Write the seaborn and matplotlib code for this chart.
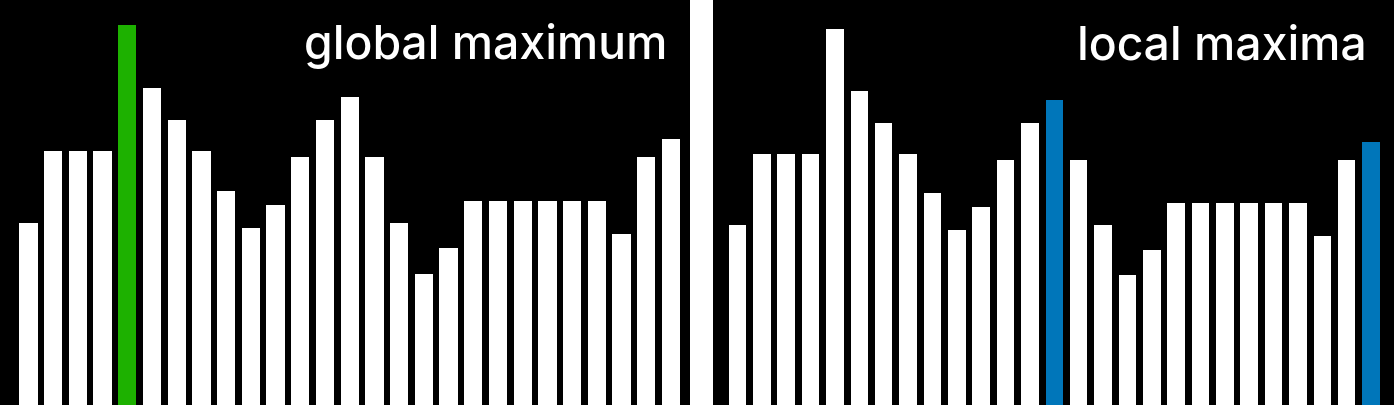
import matplotlib
matplotlib.use("Agg")
import matplotlib.pyplot as plt
import seaborn as sns
import numpy as np

# Data
positions = list(range(27))
values = [182, 254, 254, 254, 380, 317, 285, 254, 214, 177, 200, 248, 285, 308,
          248, 182, 131, 157, 204, 204, 204, 204, 204, 204, 171, 248, 266]
global_max_idx = [4]
local_max_idx = [13, 26]
titles = ["global maximum", "local maxima"]

WHITE = "#ffffff"
GREEN = "#1db100"
BLUE = "#0076ba"

sns.set_theme(style="white")
plt.rcParams['font.family'] = ['Inter', 'DejaVu Sans']

W, H, DPI = 1394, 406, 100
fig = plt.figure(figsize=(W / DPI, H / DPI), dpi=DPI, facecolor="white")

ax1 = fig.add_axes([0 / W, 0, 690 / W, 1])
ax2 = fig.add_axes([713 / W, 0, 681 / W, 1])

colors1 = [GREEN if i in global_max_idx else WHITE for i in positions]
colors2 = [BLUE if i in local_max_idx else WHITE for i in positions]

sns.barplot(x=positions, y=values, hue=positions, palette=colors1, legend=False,
            width=0.74, saturation=1, linewidth=0, ax=ax1)
sns.barplot(x=positions, y=values, hue=positions, palette=colors2, legend=False,
            width=0.72, saturation=1, linewidth=0, ax=ax2)

ax1.set_xlim(-1.151, 26.77)
ax2.set_xlim(-1.005, 26.94)
ax1.set_ylim(0, 406)
ax2.set_ylim(0, 410.3)

for ax in (ax1, ax2):
    ax.set_facecolor("black")
    ax.set_xticks([])
    ax.set_yticks([])
    ax.set_xlabel("")
    ax.set_ylabel("")
    for s in ax.spines.values():
        s.set_visible(False)

# titles
fs = 30
t1 = fig.text(667 / W, 1 - 59 / H, titles[0], ha="right", va="baseline",
              color="white", fontsize=fs, fontweight="medium")
t2 = fig.text(1367 / W, 1 - 59 / H, titles[1], ha="right", va="baseline",
              color="white", fontsize=fs, fontweight="medium")
fig.canvas.draw()
r = fig.canvas.get_renderer()
w1 = t1.get_window_extent(r).width
fs_new = fs * 364 / w1
t1.set_fontsize(fs_new)
t2.set_fontsize(fs_new)

fig.savefig("out.png", dpi=DPI, facecolor="white")
